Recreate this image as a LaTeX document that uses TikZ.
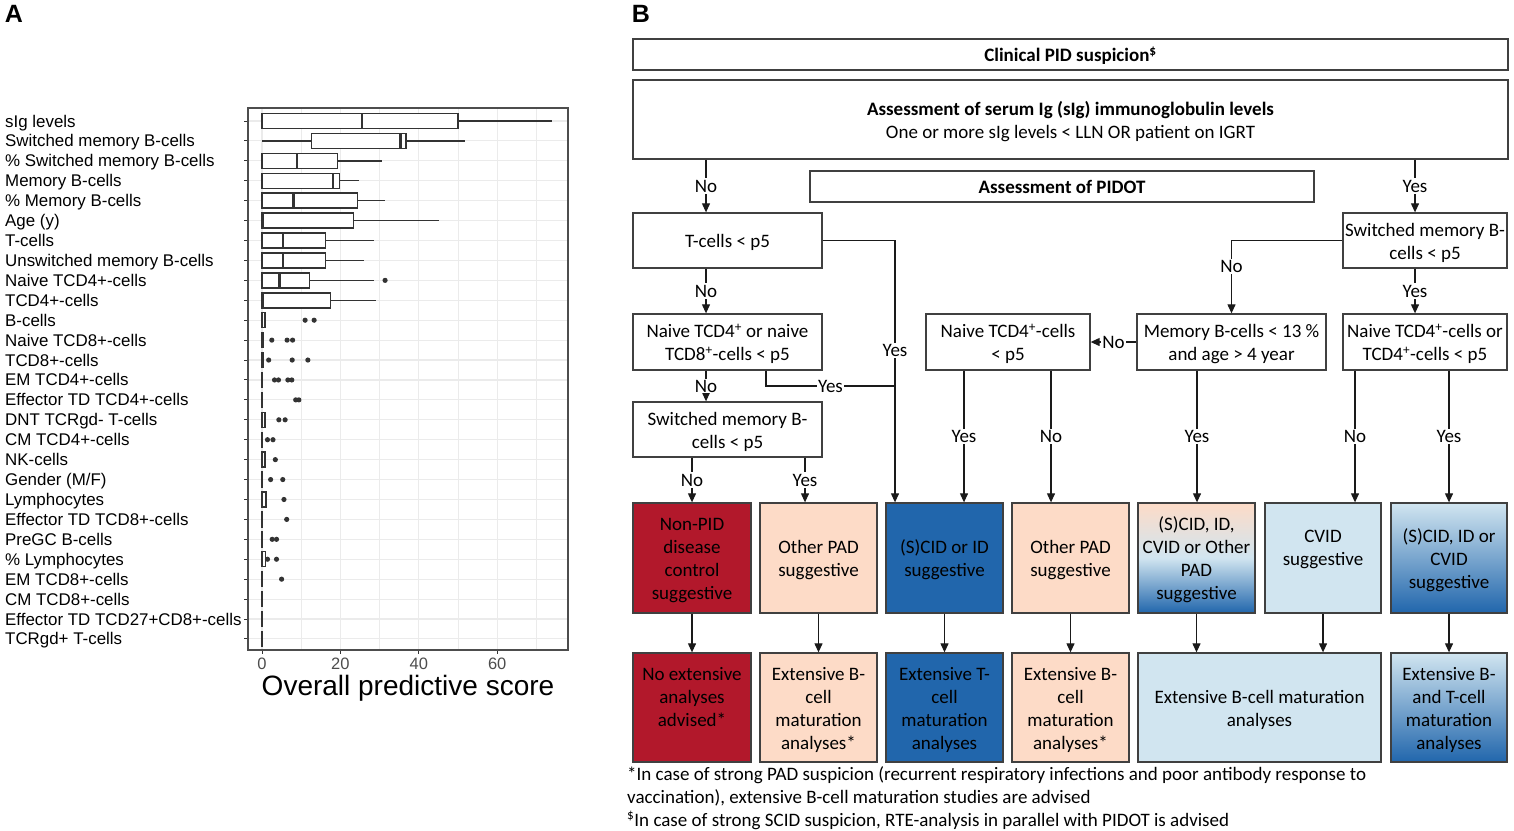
\documentclass[tikz,border=0pt]{standalone}
\usepackage{fontspec}
\setmainfont{Carlito}
\newfontfamily\arialf{Liberation Sans}
\usetikzlibrary{arrows.meta}
\definecolor{dred}{HTML}{B2182B}
\definecolor{peach}{HTML}{FDDBC7}
\definecolor{dblue}{HTML}{2166AC}
\definecolor{lblue}{HTML}{D1E5F0}
\definecolor{boxc}{HTML}{404040}
\definecolor{linec}{HTML}{1A1A1A}
\definecolor{gridc}{HTML}{EBEBEB}
\definecolor{bpc}{HTML}{333333}
\definecolor{tickc}{HTML}{4D4D4D}
\definecolor{framec}{HTML}{4D4D4D}
\newcommand\bxp[6]{%
  \pgfmathsetmacro\yy{121+19.92*#1}%
  \draw[bpl] (#2,\yy) -- (#3,\yy);
  \draw[bpl] (#5,\yy) -- (#6,\yy);
  \draw[bpl, fill=white] (#3,\yy-7.5) rectangle (#5,\yy+7.5);
  \draw[bpl, line width=2.6pt] (#4,\yy-7.5) -- (#4,\yy+7.5);
}
\newcommand\outl[2]{%
  \pgfmathsetmacro\yy{121+19.92*#1}%
  \fill[bpc] (#2,\yy) circle[radius=2.6pt];
}
\newcommand\bxt[1]{\raisebox{-2.5pt}[\height][\depth]{\begin{tabular}{@{}c@{}}#1\end{tabular}}}
\begin{document}
\begin{tikzpicture}[x=1pt,y=-1pt,
  bt/.style={font=\fontsize{19}{23}\selectfont, align=center},
  dbox/.style={draw=boxc, line width=1.3pt, rectangle, inner sep=0pt, bt},
  arr/.style={draw=linec, line width=1.1pt, -{Triangle[length=9pt,width=8pt]}},
  ln/.style={draw=linec, line width=1.1pt},
  lab/.style={fill=white, inner sep=1.5pt, bt},
  alab/.style={font=\arialf\fontsize{16.9}{18}\selectfont, inner sep=0pt},
  tlab/.style={font=\arialf\fontsize{16.5}{18}\selectfont, text=tickc, inner sep=0pt},
  bpl/.style={draw=bpc, line width=1.45pt},
  gmaj/.style={draw=gridc, line width=1.1pt},
  gmin/.style={draw=gridc, line width=0.55pt},
  plab/.style={font=\arialf\bfseries\fontsize{25}{28}\selectfont, inner sep=0pt},
]
\useasboundingbox (0,0) rectangle (1514,830);

% ---------------- Panel labels
\node[plab] (pA) at (14,14) {A};
\node[plab] (pB) at (641,14) {B};

% ---------------- Panel A
\foreach \i in {0,...,26} {
  \draw[gmaj] (248,{121+19.92*\i}) -- (568,{121+19.92*\i});
  \draw[draw=bpc, line width=1pt] (244,{121+19.92*\i}) -- (248,{121+19.92*\i});
}
\foreach \lab [count=\i from 0] in {sIg levels, Switched memory B-cells, \% Switched memory B-cells, Memory B-cells, \% Memory B-cells, Age (y), T-cells, Unswitched memory B-cells, Naive TCD4+-cells, TCD4+-cells, B-cells, Naive TCD8+-cells, TCD8+-cells, EM TCD4+-cells, Effector TD TCD4+-cells, DNT TCRgd- T-cells, CM TCD4+-cells, NK-cells, Gender (M/F), Lymphocytes, Effector TD TCD8+-cells, PreGC B-cells, \% Lymphocytes, EM TCD8+-cells, CM TCD8+-cells, Effector TD TCD27+CD8+-cells, TCRgd+ T-cells} {
  \node[alab, anchor=base west] (la\i) at (5,{121+19.92*\i+6}) {\lab};
}
\begin{scope}[shift={(262,0)}, x=3.92pt]
  \foreach \v in {10,30,50,70} \draw[gmin] (\v,108) -- (\v,650);
  \foreach \v in {0,20,40,60} {
    \draw[gmaj] (\v,108) -- (\v,650);
    \draw[draw=bpc, line width=1pt] (\v,650) -- (\v,654);
    \node[tlab] (tk\v) at (\v,664) {\v};
  }
  \bxp{0}{0}{0}{25.5}{50}{74}
  \bxp{1}{0}{12.6}{35.3}{36.7}{51.9}
  \bxp{2}{0}{0}{8.9}{19.2}{30.5}
  \bxp{3}{0}{0}{18.1}{19.8}{24.7}
  \bxp{4}{0}{0}{8.1}{24.4}{31.5}
  \bxp{5}{0}{0}{0.2}{23.3}{45.2}
  \bxp{6}{0}{0}{5.4}{16.2}{28.5}
  \bxp{7}{0}{0}{5.4}{16.2}{25.9}
  \bxp{8}{0}{0}{4.4}{12.1}{28.6}
  \outl{8}{31.4}
  \bxp{9}{0}{0}{0.2}{17.5}{29}
  \bxp{10}{0}{0}{0}{0.8}{0.8}
  \outl{10}{11.0}\outl{10}{13.3}
  \bxp{11}{0}{0}{0}{0.3}{0.3}
  \outl{11}{2.5}\outl{11}{6.4}\outl{11}{7.8}
  \bxp{12}{0}{0}{0}{0.3}{0.3}
  \outl{12}{1.7}\outl{12}{7.7}\outl{12}{11.7}
  \bxp{13}{0}{0}{0}{0.1}{0.1}
  \outl{13}{3.2}\outl{13}{4.2}\outl{13}{6.6}\outl{13}{7.6}
  \bxp{14}{0}{0}{0}{0.1}{0.1}
  \outl{14}{8.6}\outl{14}{9.4}
  \bxp{15}{0}{0}{0}{0.8}{0.8}
  \outl{15}{4.3}\outl{15}{5.9}
  \bxp{16}{0}{0}{0}{0.1}{0.1}
  \outl{16}{1.4}\outl{16}{2.8}
  \bxp{17}{0}{0}{0}{0.8}{0.8}
  \outl{17}{3.4}
  \bxp{18}{0}{0}{0}{0.1}{0.1}
  \outl{18}{2.2}\outl{18}{5.3}
  \bxp{19}{0}{0}{0}{1.0}{1.0}
  \outl{19}{5.6}
  \bxp{20}{0}{0}{0}{0.1}{0.1}
  \outl{20}{6.3}
  \bxp{21}{0}{0}{0}{0.1}{0.1}
  \outl{21}{2.6}\outl{21}{3.7}
  \bxp{22}{0}{0}{0}{0.9}{0.9}
  \outl{22}{1.4}\outl{22}{3.7}
  \bxp{23}{0}{0}{0}{0.1}{0.1}
  \outl{23}{5.0}
  \bxp{24}{0}{0}{0}{0.1}{0.1}
  \bxp{25}{0}{0}{0}{0.1}{0.1}
  \bxp{26}{0}{0}{0}{0.1}{0.1}
\end{scope}
\draw[draw=framec, line width=1.1pt] (248,108) rectangle (568,650);
\node[font=\arialf\fontsize{28}{32}\selectfont, inner sep=0pt] (xtitle) at (408,688) {Overall predictive score};

% ---------------- Panel B: boxes
\node[dbox, minimum width=875pt, minimum height=31pt] (clin) at (1070.5,54.5) {\bxt{\textbf{Clinical PID suspicion\textsuperscript{\$}}}};
\node[dbox, minimum width=875pt, minimum height=79pt] (assess) at (1070.5,119.5) {\bxt{\textbf{Assessment of serum Ig (sIg) immunoglobulin levels}\\One or more sIg levels < LLN OR patient on IGRT}};
\node[dbox, minimum width=504pt, minimum height=31pt] (pidot) at (1062,186.5) {\bxt{\textbf{Assessment of PIDOT}}};
\node[dbox, minimum width=189pt, minimum height=55pt] (tcell) at (727.5,240.5) {\bxt{T-cells < p5}};
\node[dbox, minimum width=164pt, minimum height=55pt] (smbR) at (1425,240.5) {\bxt{Switched memory B-\\cells < p5}};
\node[dbox, minimum width=189pt, minimum height=56pt] (naive1) at (727.5,342) {\bxt{Naive TCD4\textsuperscript{+} or naive\\TCD8\textsuperscript{+}-cells < p5}};
\node[dbox, minimum width=189pt, minimum height=55pt] (smbL) at (727.5,429.5) {\bxt{Switched memory B-\\cells < p5}};
\node[dbox, minimum width=164pt, minimum height=56pt] (naive2) at (1008,342) {\bxt{Naive TCD4\textsuperscript{+}-cells\\< p5}};
\node[dbox, minimum width=189pt, minimum height=56pt] (mem) at (1231.5,342) {\bxt{Memory B-cells < 13 \%\\and age > 4 year}};
\node[dbox, minimum width=164pt, minimum height=56pt] (naive3) at (1425,342) {\bxt{Naive TCD4\textsuperscript{+}-cells or\\TCD4\textsuperscript{+}-cells < p5}};

% outcome row 1
\node[dbox, fill=dred, minimum width=118pt, minimum height=110pt] (o1) at (692,558) {\bxt{Non-PID\\disease\\control\\suggestive}};
\node[dbox, fill=peach, minimum width=117pt, minimum height=110pt] (o2) at (818.5,558) {\bxt{Other PAD\\suggestive}};
\node[dbox, fill=dblue, minimum width=117pt, minimum height=110pt] (o3) at (944.5,558) {\bxt{(S)CID or ID\\suggestive}};
\node[dbox, fill=peach, minimum width=117pt, minimum height=110pt] (o4) at (1070.5,558) {\bxt{Other PAD\\suggestive}};
\node[dbox, top color=peach, bottom color=dblue, middle color=lblue, minimum width=117pt, minimum height=110pt] (o5) at (1196.5,558) {\bxt{(S)CID, ID,\\CVID or Other\\PAD\\suggestive}};
\node[dbox, fill=lblue, minimum width=116pt, minimum height=110pt] (o6) at (1323,558) {\bxt{CVID\\suggestive\\\mbox{}}};
\node[dbox, top color=lblue, bottom color=dblue, minimum width=116pt, minimum height=110pt] (o7) at (1449,558) {\bxt{(S)CID, ID or\\CVID\\suggestive}};

% outcome row 2
\node[dbox, fill=dred, minimum width=118pt, minimum height=109pt] (r1) at (692,707.5) {\bxt{No extensive\\analyses\\advised*\\\mbox{}}};
\node[dbox, fill=peach, minimum width=117pt, minimum height=109pt] (r2) at (818.5,707.5) {\bxt{Extensive B-\\cell\\maturation\\analyses*}};
\node[dbox, fill=dblue, minimum width=117pt, minimum height=109pt] (r3) at (944.5,707.5) {\bxt{Extensive T-\\cell\\maturation\\analyses}};
\node[dbox, fill=peach, minimum width=117pt, minimum height=109pt] (r4) at (1070.5,707.5) {\bxt{Extensive B-\\cell\\maturation\\analyses*}};
\node[dbox, fill=lblue, minimum width=243pt, minimum height=109pt] (r5) at (1259.5,707.5) {\bxt{Extensive B-cell maturation\\analyses}};
\node[dbox, top color=lblue, bottom color=dblue, minimum width=116pt, minimum height=109pt] (r6) at (1449,707.5) {\bxt{Extensive B-\\and T-cell\\maturation\\analyses}};

% footnotes
\node[bt, anchor=base west, inner sep=0pt] (fn1) at (627,780) {*In case of strong PAD suspicion (recurrent respiratory infections and poor antibody response to};
\node[bt, anchor=base west, inner sep=0pt] (fn2) at (627,803) {vaccination), extensive B-cell maturation studies are advised};
\node[bt, anchor=base west, inner sep=0pt] (fn3) at (627,826) {\textsuperscript{\$}In case of strong SCID suspicion, RTE-analysis in parallel with PIDOT is advised};

% ---------------- connectors
\coordinate (gA) at (706,0);
\coordinate (gB) at (766,0);
\coordinate (gC) at (895,0);
\coordinate (gE) at (805,0);
\coordinate (gF) at (964,0);
\coordinate (gG) at (1051,0);
\coordinate (gH) at (1197,0);
\coordinate (gJ) at (1415,0);
\coordinate (gK) at (1355,0);
\coordinate (gL) at (1449,0);
\coordinate (jn) at (895,386);

\draw[arr] (assess.south -| gA) -- node[lab]{No} (tcell.north -| gA);
\draw[arr] (assess.south -| gJ) -- node[lab]{Yes} (smbR.north -| gJ);
\draw[arr] (tcell.south -| gA) -- node[lab]{No} (naive1.north -| gA);
\draw[arr] (naive1.south -| gA) -- node[lab, inner sep=0.5pt]{No} (smbL.north -| gA);
\draw[arr] (tcell.east) -| node[lab, pos=0.71]{Yes} (o3.north -| gC);
\draw[ln] (naive1.south -| gB) |- node[lab, pos=0.75]{Yes} (jn);
\draw[arr] (smbL.south -| o1) -- node[lab]{No} (o1.north);
\draw[arr] (smbL.south -| gE) -- node[lab]{Yes} (o2.north -| gE);
\draw[arr] (smbR.west) -| node[lab, pos=0.68]{No} (mem.north);
\draw[arr] (smbR.south -| gJ) -- node[lab]{Yes} (naive3.north -| gJ);
\draw[arr] (mem.west) -- node[lab]{No} (naive2.east);
\draw[arr] (naive2.south -| gF) -- node[lab]{Yes} (o3.north -| gF);
\draw[arr] (naive2.south -| gG) -- node[lab]{No} (o4.north -| gG);
\draw[arr] (mem.south -| gH) -- node[lab]{Yes} (o5.north -| gH);
\draw[arr] (naive3.south -| gK) -- node[lab]{No} (o6.north -| gK);
\draw[arr] (naive3.south -| gL) -- node[lab]{Yes} (o7.north -| gL);

\draw[arr] (o1.south) -- (r1.north);
\draw[arr] (o2.south) -- (r2.north);
\draw[arr] (o3.south) -- (r3.north);
\draw[arr] (o4.south) -- (r4.north);
\draw[arr] (o5.south) -- (r5.north -| o5);
\draw[arr] (o6.south) -- (r5.north -| o6);
\draw[arr] (o7.south) -- (r6.north);
\end{tikzpicture}
\end{document}
